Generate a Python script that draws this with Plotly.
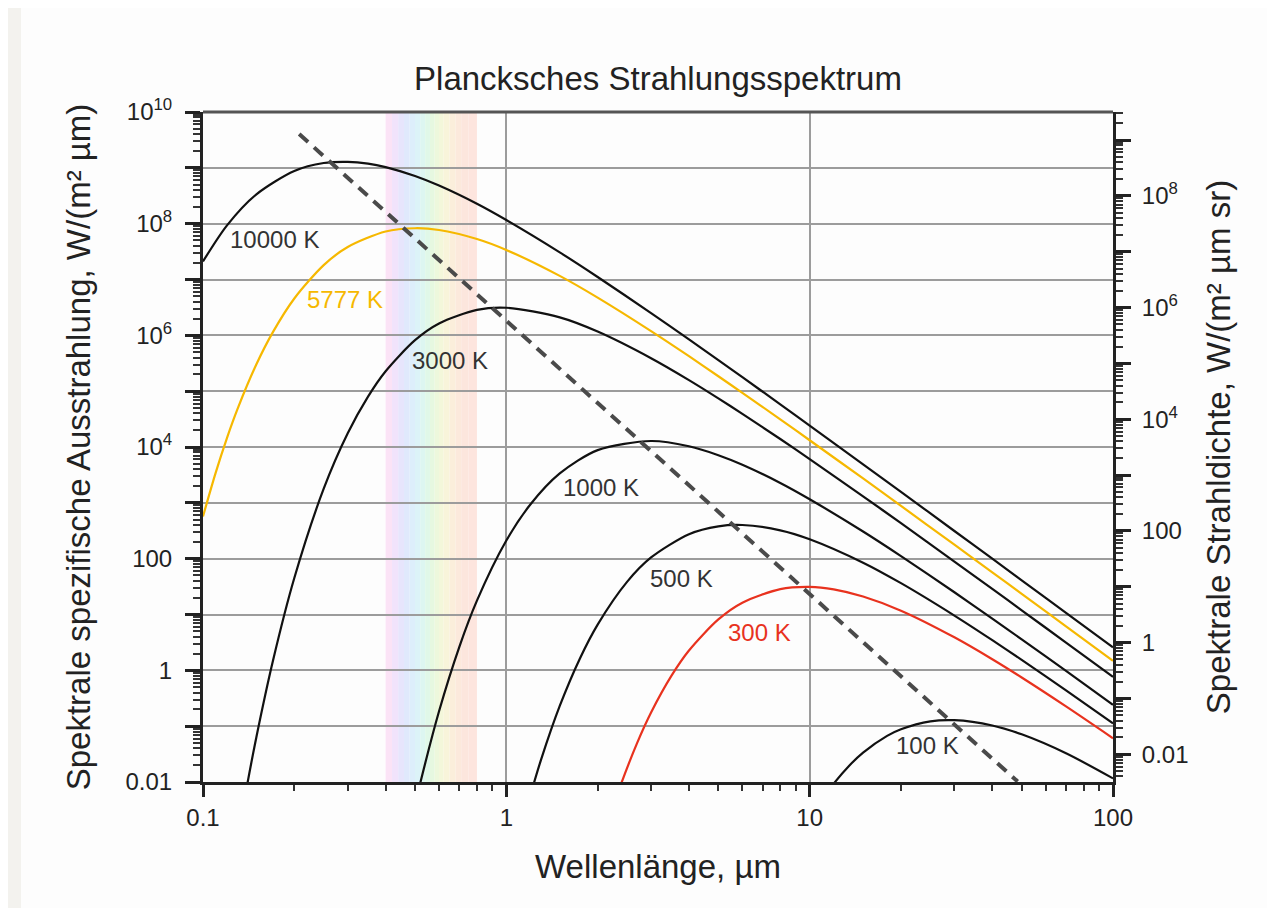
import numpy as np
import plotly.graph_objects as go

# ---------------- data ----------------
lam_10000 = [0.1, 0.12, 0.15, 0.2, 0.25, 0.3, 0.35, 0.4, 0.5, 0.6, 0.8, 1, 1.5, 2, 3, 4, 5, 6, 8, 10, 15, 20, 30, 40, 50, 70, 100]
m_10000 = [2.11e7, 9.33e7, 3.36e8, 8.79e8, 1.22e9, 1.28e9, 1.19e9, 1.03e9, 7.14e8, 4.81e8, 2.27e8, 1.16e8, 3.06e7, 1.11e7, 2.50e6,
           8.44e5, 3.59e5, 1.78e5, 5.80e4, 2.42e4, 4.90e3, 1.57e3, 313, 99.8, 41.0, 10.7, 2.58]

lam_5777 = [0.1, 0.11, 0.12, 0.13, 0.15, 0.17, 0.2, 0.25, 0.3, 0.4, 0.5, 0.6, 0.8, 1, 1.5, 2, 3, 4, 5, 6, 8, 10, 15, 20, 30, 40, 50, 70, 100]
m_5777 = [571, 3.41e3, 1.46e4, 4.82e4, 3.03e5, 1.14e6, 4.57e6, 1.81e7, 3.82e7, 7.24e7, 8.28e7, 7.70e7, 5.31e7, 3.38e7, 1.16e7, 4.73e6,
          1.19e6, 4.23e5, 1.85e5, 9.35e4, 3.13e4, 1.32e4, 2.73e3, 882, 178, 56.9, 23.4, 6.15, 1.48]

lam_3000 = [0.13, 0.14, 0.15, 0.17, 0.2, 0.25, 0.3, 0.35, 0.4, 0.5, 0.6, 0.8, 1, 1.5, 2, 3, 4, 5, 6, 8, 10, 15, 20, 30, 40, 50, 70, 100]
m_3000 = [9.58e-4, 9.22e-3, 0.0641, 1.47, 45.0, 1.79e3, 1.76e4, 7.97e4, 2.27e5, 8.18e5, 1.63e6, 2.85e6, 3.12e6, 2.10e6, 1.17e6,
          3.90e5, 1.58e5, 7.44e4, 3.93e4, 1.39e4, 6.08e3, 1.31e3, 432, 88.8, 28.7, 11.9, 3.14, 0.762]

lam_1000 = [0.5, 0.52, 0.6, 0.7, 0.8, 1, 1.2, 1.5, 2, 3, 4, 5, 6, 8, 10, 15, 20, 30, 40, 50, 70, 100]
m_1000 = [3.81e-3, 9.48e-3, 0.185, 2.64, 17.7, 211, 933, 3.36e3, 8.79e3, 1.28e4, 1.03e4, 7.14e3, 4.81e3, 2.27e3, 1.16e3,
          306, 111, 25.0, 8.44, 3.59, 0.976, 0.242]

lam_500 = [1.2, 1.3, 1.5, 1.75, 2, 2.5, 3, 4, 5, 6, 8, 10, 15, 20, 30, 40, 50, 70, 100]
m_500 = [5.79e-3, 0.0246, 0.230, 1.65, 6.60, 38.4, 105, 275, 380, 401, 322, 223, 84.8, 36.4, 9.57, 3.47, 1.54, 0.438, 0.112]

lam_300 = [2.3, 2.4, 2.7, 3, 3.5, 4, 5, 6, 8, 10, 12, 15, 20, 30, 40, 50, 70, 100]
m_300 = [5.11e-3, 9.85e-3, 0.0503, 0.176, 0.797, 2.27, 8.18, 16.3, 28.5, 31.2, 28.2, 21.0, 11.7, 3.90, 1.58, 0.744, 0.226, 0.0608]

lam_100 = [11, 12, 13.5, 15, 18, 20, 25, 30, 40, 50, 70, 100]
m_100 = [4.85e-3, 9.33e-3, 0.0196, 0.0336, 0.0669, 0.0879, 0.122, 0.128, 0.103, 0.0714, 0.0327, 0.0116]

wien_lam = [0.2075, 48.5]
wien_m = [4.04e9, 0.0102]

curve_names = ["10000 K", "5777 K", "3000 K", "1000 K", "500 K", "300 K", "100 K"]
curve_lams = [lam_10000, lam_5777, lam_3000, lam_1000, lam_500, lam_300, lam_100]
curve_vals = [m_10000, m_5777, m_3000, m_1000, m_500, m_300, m_100]

# visible-light band (wavelength edges, µm)
band_edges = [0.40, 0.42, 0.44, 0.46, 0.48, 0.50, 0.52, 0.54, 0.56, 0.58, 0.60, 0.62, 0.65, 0.68, 0.71, 0.75, 0.80]

x_tick_vals = [0.1, 1, 10, 100]
x_tick_text = ["0.1", "1", "10", "100"]

# ---------------- styles ----------------
curve_colors = ["#111111", "#f6b800", "#111111", "#111111", "#111111", "#e8321e", "#111111"]
band_colors = ["#fbe3f6", "#f1e3fb", "#e7e5fc", "#e0e9fc", "#ddeefb", "#dcf3f8", "#ddf6f1", "#e0f8e8",
               "#e6f8e0", "#edf8dc", "#f3f7da", "#f8f4da", "#fbeedb", "#fce9dc", "#fce6dd", "#fde5de"]
label_pos = [(0.121, 5.1e7), (0.217, 4.3e6), (0.482, 3.6e5), (1.51, 1.9e3), (2.94, 44.6), (5.28, 4.8), (18.9, 0.045)]

FONT = "Liberation Sans, Arial, Helvetica, sans-serif"
TXT = "#222222"
OFF = 8                      # page body margin
W, H = 1275 - OFF, 908 - OFF
L, R, T, B = 203 - OFF, 1113 - OFF, 112 - OFF, 782 - OFF
TICK_FS = 24
TITLE_FS = 33


def px2paper_x(px):
    return (px - L) / (R - L)


def px2paper_y(py):
    return (B - py) / (B - T)


fig = go.Figure()

for name, xs, ys, col in zip(curve_names, curve_lams, curve_vals, curve_colors):
    fig.add_trace(go.Scatter(x=xs, y=ys, mode="lines", name=name,
                             line=dict(color=col, width=2.2, shape="spline", smoothing=0.8),
                             showlegend=False, hoverinfo="skip"))

fig.add_trace(go.Scatter(x=wien_lam, y=wien_m, mode="lines", showlegend=False, hoverinfo="skip",
                         line=dict(color="#4a4a4a", width=4, dash="12px,8px")))

# invisible trace to activate the right axis
fig.add_trace(go.Scatter(x=[1], y=[1], yaxis="y2", mode="markers", marker=dict(opacity=0),
                         showlegend=False, hoverinfo="skip"))

shapes = []
# page border strip (left)
shapes.append(dict(type="rect", xref="paper", yref="paper", x0=px2paper_x(0), x1=px2paper_x(21 - OFF),
                   y0=px2paper_y(H), y1=px2paper_y(0), fillcolor="#f3f2ee", line=dict(width=0), layer="below"))
# rainbow band (shapes on a log axis take data values here)
for i, c in enumerate(band_colors):
    shapes.append(dict(type="rect", xref="x", yref="paper",
                       x0=band_edges[i], x1=band_edges[i + 1],
                       y0=0, y1=1, fillcolor=c, line=dict(width=0), layer="below"))
# top frame line
shapes.append(dict(type="line", xref="paper", yref="paper", x0=0, x1=1, y0=1, y1=1,
                   line=dict(color="#555555", width=3)))

annotations = []
for name, (lx, ly), col in zip(curve_names, label_pos, curve_colors):
    annotations.append(dict(x=np.log10(lx), y=np.log10(ly), xref="x", yref="y", text=name, showarrow=False,
                            xanchor="left", yanchor="middle",
                            font=dict(family=FONT, size=TICK_FS, color=("#333333" if col == "#111111" else col))))

decades_left = [10.0 ** k for k in range(-2, 11)]
left_text = []
for k in range(-2, 11):
    if k % 2:
        left_text.append("")
    elif k == -2:
        left_text.append("0.01")
    elif k == 0:
        left_text.append("1")
    elif k == 2:
        left_text.append("100")
    else:
        left_text.append("10<sup>%d</sup>" % k)
minor_left = [m * 10.0 ** k for k in range(-2, 10) for m in range(2, 10)]

decades_right = [10.0 ** k for k in range(-3, 10)]
right_text = []
for k in range(-3, 10):
    if k % 2:
        right_text.append("")
    elif k == -2:
        right_text.append("0.01")
    elif k == 0:
        right_text.append("1")
    elif k == 2:
        right_text.append("100")
    else:
        right_text.append("10<sup>%d</sup>" % k)
minor_right = [m * 10.0 ** k for k in range(-3, 10) for m in range(2, 10)]

minor_x = [m * 10.0 ** k for k in range(-1, 2) for m in range(2, 10)]

PI = np.pi

fig.update_layout(
    width=W, height=H,
    margin=dict(l=L, r=W - R, t=T, b=H - B),
    paper_bgcolor="#fdfdfd", plot_bgcolor="rgba(0,0,0,0)",
    font=dict(family=FONT, color=TXT, size=TICK_FS),
    title=dict(text="Plancksches Strahlungsspektrum", x=0.5, xref="paper", xanchor="center",
               y=1 - (78 - OFF) / H, yref="container", yanchor="middle",
               font=dict(family=FONT, size=TITLE_FS, color=TXT)),
    shapes=shapes,
    annotations=annotations,
    xaxis=dict(type="log", range=[-1, 2], tickvals=x_tick_vals, ticktext=x_tick_text,
               ticks="outside", ticklen=12, tickwidth=2.5, tickcolor="#222",
               ticklabelstandoff=0,
               showline=True, linecolor="#222", linewidth=3,
               showgrid=True, gridcolor="#9c9c9c", gridwidth=1.6,
               tickfont=dict(size=TICK_FS, color=TXT),
               minor=dict(tickvals=minor_x, ticks="outside", ticklen=6, tickwidth=2, tickcolor="#333",
                          showgrid=False),
               title=dict(text="Wellenlänge, µm", font=dict(size=TITLE_FS, color=TXT), standoff=26),
               zeroline=False),
    yaxis=dict(type="log", range=[-2, 10], tickvals=decades_left, ticktext=left_text,
               ticks="outside", ticklen=15, tickwidth=2.5, tickcolor="#222",
               ticklabelstandoff=8,
               showline=True, linecolor="#222", linewidth=3,
               showgrid=True, gridcolor="#9c9c9c", gridwidth=1.6,
               tickfont=dict(size=TICK_FS, color=TXT),
               minor=dict(tickvals=minor_left, ticks="outside", ticklen=7, tickwidth=1.5, tickcolor="#333",
                          showgrid=False),
               title=dict(text="Spektrale spezifische Ausstrahlung, W/(m² µm)", font=dict(size=TITLE_FS, color=TXT),
                          standoff=25),
               zeroline=False),
    yaxis2=dict(type="log", overlaying="y", side="right",
                range=[np.log10(0.01 / PI), np.log10(1e10 / PI)],
                tickvals=decades_right, ticktext=right_text,
                ticks="outside", ticklen=15, tickwidth=2.5, tickcolor="#222",
                ticklabelstandoff=6,
                showline=True, linecolor="#222", linewidth=3, showgrid=False,
                tickfont=dict(size=TICK_FS, color=TXT),
                minor=dict(tickvals=minor_right, ticks="outside", ticklen=7, tickwidth=1.5, tickcolor="#333",
                           showgrid=False),
                title=dict(text="Spektrale Strahldichte, W/(m² µm sr)", font=dict(size=TITLE_FS, color=TXT),
                           standoff=20),
                zeroline=False),
)

fig.write_html("out.html")
